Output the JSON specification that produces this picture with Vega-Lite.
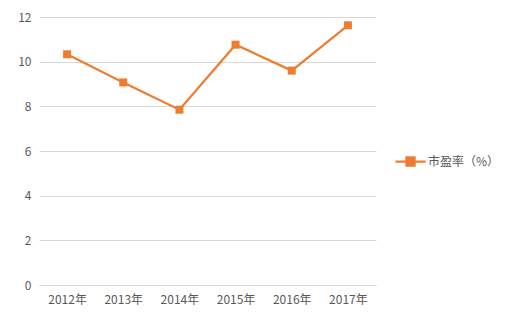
{
  "$schema": "https://vega.github.io/schema/vega-lite/v6.json",
  "width": 337,
  "height": 268,
  "autosize": {"type": "none"},
  "padding": {"left": 39, "top": 17, "right": 145, "bottom": 43},
  "background": "white",
  "data": {
    "values": [
      {"year": "2012年", "pe": 10.33, "series": "市盈率（%）"},
      {"year": "2013年", "pe": 9.07, "series": "市盈率（%）"},
      {"year": "2014年", "pe": 7.85, "series": "市盈率（%）"},
      {"year": "2015年", "pe": 10.76, "series": "市盈率（%）"},
      {"year": "2016年", "pe": 9.6, "series": "市盈率（%）"},
      {"year": "2017年", "pe": 11.63, "series": "市盈率（%）"}
    ]
  },
  "encoding": {
    "x": {
      "field": "year", "type": "ordinal", "sort": null,
      "scale": {"type": "point", "padding": 0.5},
      "axis": {"title": null, "labelAngle": 0, "ticks": false, "domain": true, "domainColor": "#d9d9d9", "labelPadding": 9, "grid": false}
    },
    "y": {
      "field": "pe", "type": "quantitative",
      "scale": {"domain": [0, 12], "nice": false, "zero": true},
      "axis": {"title": null, "values": [0, 2, 4, 6, 8, 10, 12], "ticks": false, "domain": false, "labelPadding": 8, "gridColor": "#d9d9d9", "gridWidth": 1}
    },
    "color": {
      "field": "series", "type": "nominal",
      "scale": {"range": ["#ED7D31"]},
      "legend": {"title": null, "orient": "none", "legendX": 355, "legendY": 128, "symbolType": "M-1,0H1M-0.27,-0.27H0.27V0.27H-0.27Z", "symbolSize": 900, "symbolStrokeWidth": 2.25, "symbolFillColor": "#ED7D31", "labelOffset": 1}
    }
  },
  "layer": [
    {"mark": {"type": "line", "strokeWidth": 2.25}},
    {"mark": {"type": "point", "shape": "square", "filled": true, "size": 64, "opacity": 1}}
  ],
  "config": {
    "view": {"stroke": null},
    "font": "Noto Sans CJK SC",
    "axis": {"labelFont": "Noto Sans CJK SC", "labelFontSize": 12, "labelColor": "#595959"},
    "legend": {"labelFont": "Noto Sans CJK SC", "labelFontSize": 12, "labelColor": "#595959"}
  }
}
